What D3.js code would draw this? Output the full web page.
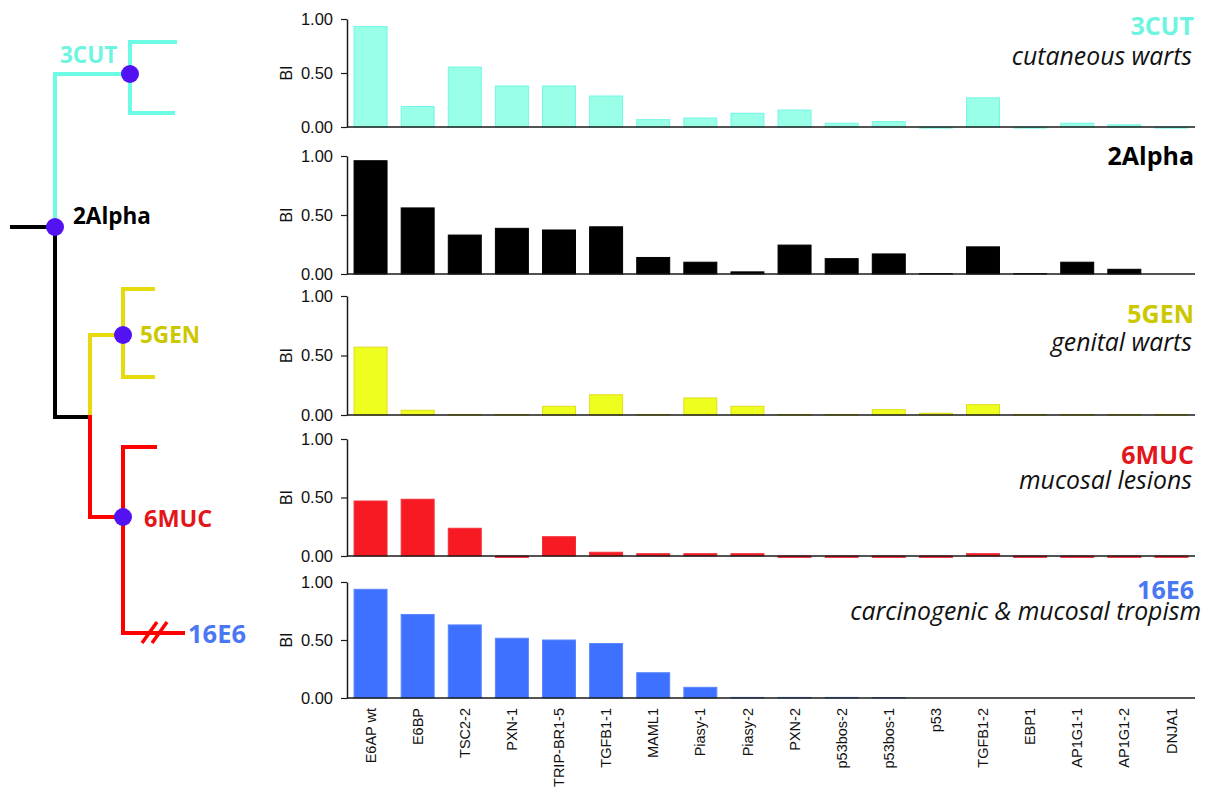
<!DOCTYPE html>
<html>
<head>
<meta charset="utf-8">
<script src="https://cdn.jsdelivr.net/npm/d3@7"></script>
<style>
  html, body { margin: 0; padding: 0; background: #fff; }
  svg { display: block; }
</style>
</head>
<body>
<svg id="chart" width="1210" height="789"></svg>
<script>
// --- Data ---
const categories = ['E6AP wt', 'E6BP', 'TSC2-2', 'PXN-1', 'TRIP-BR1-5', 'TGFB1-1', 'MAML1', 'Piasy-1',
  'Piasy-2', 'PXN-2', 'p53bos-2', 'p53bos-1', 'p53', 'TGFB1-2', 'EBP1', 'AP1G1-1', 'AP1G1-2', 'DNJA1'];

const bi3CUT   = [0.93, 0.19, 0.555, 0.38, 0.38, 0.287, 0.068, 0.083, 0.127, 0.157, 0.035, 0.05, -0.01, 0.27, -0.01, 0.035, 0.02, -0.01];
const bi2Alpha = [0.96, 0.56, 0.33, 0.387, 0.373, 0.40, 0.14, 0.10, 0.018, 0.245, 0.13, 0.17, 0.003, 0.23, 0.003, 0.10, 0.04, 0];
const bi5GEN   = [0.57, 0.04, 0.005, 0.005, 0.073, 0.17, 0.005, 0.143, 0.073, 0.005, 0.005, 0.045, 0.015, 0.087, 0.005, 0.005, 0.005, 0.005];
const bi6MUC   = [0.47, 0.485, 0.237, -0.012, 0.165, 0.032, 0.02, 0.02, 0.02, -0.012, -0.012, -0.012, -0.012, 0.02, -0.012, -0.012, -0.012, -0.012];
const bi16E6   = [0.937, 0.72, 0.63, 0.515, 0.50, 0.47, 0.218, 0.092, 0.005, 0.005, 0.005, 0.003, 0, 0, 0, 0, 0, 0];

const tickValues = [0, 0.5, 1];

// panel look + placement (values come from the arrays above)
const panels = [
  { name: '3CUT',   sub: 'cutaneous warts',                values: bi3CUT,   fill: '#99FFE6', stroke: '#72F7E6', titleColor: '#6EF5E2', top: 19,  bottom: 127, titleY: 35,  subY: 65,  subX: 1192 },
  { name: '2Alpha', sub: '',                               values: bi2Alpha, fill: '#000000', stroke: '#000000', titleColor: '#000000', top: 156, bottom: 274, titleY: 165, subY: 0,   subX: 1192 },
  { name: '5GEN',   sub: 'genital warts',                  values: bi5GEN,   fill: '#EEFF1F', stroke: '#E2DC1A', titleColor: '#CCC800', top: 296, bottom: 415, titleY: 323, subY: 351, subX: 1192 },
  { name: '6MUC',   sub: 'mucosal lesions',                values: bi6MUC,   fill: '#F81A23', stroke: '#F2303A', titleColor: '#E3161C', top: 439, bottom: 556, titleY: 464, subY: 489, subX: 1192 },
  { name: '16E6',   sub: 'carcinogenic & mucosal tropism', values: bi16E6,   fill: '#3E71FF', stroke: '#5A86FF', titleColor: '#4A78F2', top: 582, bottom: 698, titleY: 599, subY: 620, subX: 1201 },
];

const AXIS_FONT = '"Liberation Sans", Arial, sans-serif';
const TITLE_FONT = '"Open Sans", "Noto Sans", sans-serif';

const svg = d3.select('#chart');

const x = d3.scaleBand()
  .domain(categories)
  .range([347, 1195])
  .paddingInner(0.3)
  .paddingOuter(0.15);

panels.forEach(p => {
  const y = d3.scaleLinear().domain([0, 1]).range([p.bottom, p.top]);
  const g = svg.append('g').attr('class', 'panel');

  // bars
  g.selectAll('rect.bar')
    .data(p.values.map((v, i) => ({ cat: categories[i], v })))
    .join('rect')
    .attr('class', 'bar')
    .attr('x', d => x(d.cat))
    .attr('width', x.bandwidth())
    .attr('y', d => y(Math.max(0, d.v)))
    .attr('height', d => Math.abs(y(d.v) - y(0)))
    .attr('fill', p.fill)
    .attr('stroke', d => d.v === 0 ? 'none' : p.stroke)
    .attr('stroke-width', 1);

  // x baseline
  g.append('line')
    .attr('x1', x.range()[0]).attr('x2', x.range()[1])
    .attr('y1', y(0)).attr('y2', y(0))
    .attr('stroke', '#1a1a1a')
    .attr('stroke-width', 1.5);

  // y axis
  const ax = g.append('g')
    .attr('transform', `translate(${x.range()[0]},0)`)
    .call(d3.axisLeft(y).tickValues(tickValues).tickFormat(d3.format('.2f')).tickSize(6).tickSizeOuter(0));
  ax.select('.domain').attr('stroke', '#1a1a1a').attr('stroke-width', 1.5);
  ax.selectAll('.tick line').attr('stroke', '#1a1a1a').attr('stroke-width', 1.2);
  ax.selectAll('.tick text')
    .attr('x', -14)
    .attr('font-family', AXIS_FONT)
    .attr('font-size', 16.5)
    .attr('fill', '#111');

  g.append('text')
    .attr('transform', `translate(286, ${(p.top + p.bottom) / 2}) rotate(-90)`)
    .attr('text-anchor', 'middle')
    .attr('dy', '0.35em')
    .attr('font-family', AXIS_FONT)
    .attr('font-size', 16)
    .attr('fill', '#111')
    .text('BI');

  // titles
  g.append('text')
    .attr('x', 1194).attr('y', p.titleY)
    .attr('text-anchor', 'end')
    .attr('font-family', TITLE_FONT)
    .attr('font-weight', 700)
    .attr('font-size', 25)
    .attr('fill', p.titleColor)
    .text(p.name);

  if (p.sub) {
    g.append('text')
      .attr('x', p.subX).attr('y', p.subY)
      .attr('text-anchor', 'end')
      .attr('font-family', TITLE_FONT)
      .attr('font-style', 'italic')
      .attr('font-size', 24.8)
      .attr('fill', '#111')
      .text(p.sub);
  }
});

// category labels under the last panel
svg.append('g')
  .selectAll('text')
  .data(categories)
  .join('text')
  .attr('transform', d => `translate(${x(d) + x.bandwidth() / 2}, 708) rotate(-90)`)
  .attr('dy', '0.35em')
  .attr('text-anchor', 'end')
  .attr('font-family', AXIS_FONT)
  .attr('font-size', 14.5)
  .attr('fill', '#111')
  .text(d => d);

// --- Cladogram on the left ---
const CYAN = '#6CFCE6', BLACK = '#000000', YELLOW = '#E6DA0C', RED = '#FF0000', NODE = '#5312F2';

const branches = [
  { color: BLACK,  pts: [[12, 227], [55, 227]] },
  { color: CYAN,   pts: [[55, 227], [55, 74], [130, 74]] },
  { color: CYAN,   pts: [[175, 42], [130, 42], [130, 113], [173, 113]] },
  { color: BLACK,  pts: [[55, 227], [55, 417], [90, 417]] },
  { color: YELLOW, pts: [[90, 417], [90, 335], [123, 335]] },
  { color: YELLOW, pts: [[153, 289], [123, 289], [123, 377], [153, 377]] },
  { color: RED,    pts: [[90, 417], [90, 517], [123, 517]] },
  { color: RED,    pts: [[155, 447], [123, 447], [123, 633], [183, 633]] },
];

const line = d3.line();
const tree = svg.append('g').attr('class', 'tree');

tree.selectAll('path.branch')
  .data(branches)
  .join('path')
  .attr('class', 'branch')
  .attr('d', d => line(d.pts))
  .attr('fill', 'none')
  .attr('stroke', d => d.color)
  .attr('stroke-width', 4)
  .attr('stroke-linejoin', 'miter')
  .attr('stroke-linecap', 'square');

// break marks on the 16E6 branch
tree.selectAll('path.break')
  .data([[[142, 643], [157, 622]], [[152, 643], [167, 622]]])
  .join('path')
  .attr('class', 'break')
  .attr('d', d => line(d))
  .attr('stroke', RED)
  .attr('stroke-width', 3.5);

const nodes = [[130, 74], [55, 227], [123, 335], [123, 517]];
tree.selectAll('circle')
  .data(nodes)
  .join('circle')
  .attr('cx', d => d[0])
  .attr('cy', d => d[1])
  .attr('r', 9)
  .attr('fill', NODE);

const treeLabels = [
  { text: '3CUT',   x: 60,  y: 63,  size: 22.5, color: '#6EF5E2' },
  { text: '2Alpha', x: 73,  y: 224, size: 22.5, color: '#000000' },
  { text: '5GEN',   x: 140, y: 343, size: 22.5, color: '#CCC800' },
  { text: '6MUC',   x: 144, y: 527, size: 23.5, color: '#E3161C' },
  { text: '16E6',   x: 188, y: 643, size: 25.5, color: '#4A78F2' },
];

tree.selectAll('text')
  .data(treeLabels)
  .join('text')
  .attr('x', d => d.x)
  .attr('y', d => d.y)
  .attr('font-family', TITLE_FONT)
  .attr('font-weight', 700)
  .attr('font-size', d => d.size)
  .attr('fill', d => d.color)
  .text(d => d.text);
</script>
</body>
</html>
